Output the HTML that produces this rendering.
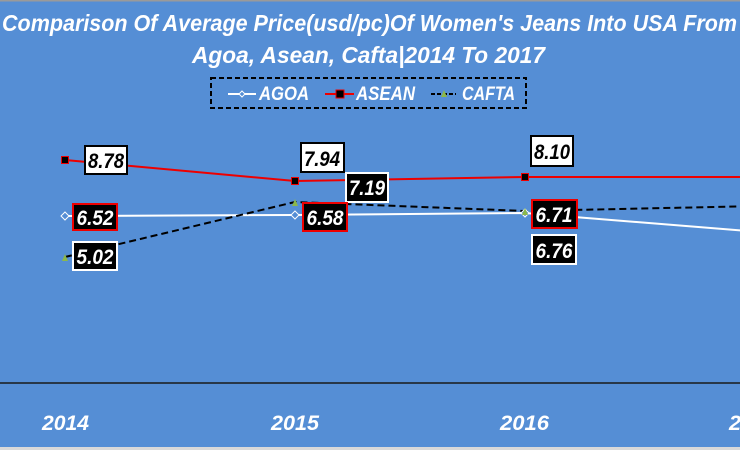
<!DOCTYPE html>
<html><head><meta charset="utf-8"><style>
html,body{margin:0;padding:0;background:#558ED5;}
svg{display:block;}
text{font-family:"Liberation Sans",sans-serif;font-weight:bold;font-style:italic;}
</style></head><body>
<svg width="740" height="450" viewBox="0 0 740 450" xmlns="http://www.w3.org/2000/svg">
<rect width="740" height="450" fill="#558ED5"/>
<rect x="0" y="0" width="740" height="1.5" fill="#9a9a9a"/>
<rect x="0" y="447" width="740" height="3" fill="#d9d9d9"/>
<text x="2" y="31" fill="#fff" font-size="23" textLength="735" lengthAdjust="spacingAndGlyphs">Comparison Of Average Price(usd/pc)Of Women's Jeans  Into USA From</text>
<text x="192" y="63" fill="#fff" font-size="23" textLength="353" lengthAdjust="spacingAndGlyphs">Agoa, Asean, Cafta|2014 To 2017</text>
<!-- legend -->
<rect x="211" y="78" width="315" height="30" fill="none" stroke="#000" stroke-width="2" stroke-dasharray="5,3"/>
<line x1="228" y1="94" x2="256" y2="94" stroke="#fff" stroke-width="2"/>
<path d="M242 91 L245 94 L242 97 L239 94Z" fill="#558ED5" stroke="#fff" stroke-width="1"/>
<text x="259" y="100" fill="#fff" font-size="19" textLength="50" lengthAdjust="spacingAndGlyphs">AGOA</text>
<line x1="325" y1="94" x2="354" y2="94" stroke="#e00" stroke-width="2"/>
<rect x="336" y="90" width="8" height="8" fill="#000" stroke="#e00" stroke-width="1"/>
<text x="356" y="100" fill="#fff" font-size="19" textLength="59" lengthAdjust="spacingAndGlyphs">ASEAN</text>
<line x1="431" y1="94" x2="456" y2="94" stroke="#000" stroke-width="2" stroke-dasharray="4,2"/>
<path d="M441 97 L444 90 L447 97Z" fill="#8cb84a"/>
<text x="462" y="100" fill="#fff" font-size="19" textLength="53" lengthAdjust="spacingAndGlyphs">CAFTA</text>
<!-- axis -->
<line x1="0" y1="383" x2="740" y2="383" stroke="#1a1a1a" stroke-width="1.5"/>
<g fill="#fff" font-size="21">
<text x="42" y="430" textLength="47" lengthAdjust="spacingAndGlyphs">2014</text><text x="271" y="430" textLength="48" lengthAdjust="spacingAndGlyphs">2015</text><text x="500" y="430" textLength="49" lengthAdjust="spacingAndGlyphs">2016</text><text x="729" y="430" textLength="48" lengthAdjust="spacingAndGlyphs">2017</text>
</g>
<!-- series -->
<polyline points="65,216 295,215 525,213 760,232" fill="none" stroke="#fff" stroke-width="2"/>
<polyline points="65,160 295,181 525,177 760,177" fill="none" stroke="#e00" stroke-width="2"/>
<polyline points="65,257 295,202 525,211 760,206" fill="none" stroke="#000" stroke-width="2" stroke-dasharray="7,4"/>
<g fill="#558ED5" stroke="#fff" stroke-width="1">
<path d="M65 212 L69 216 L65 220 L61 216Z"/><path d="M295 211 L299 215 L295 219 L291 215Z"/><path d="M525 209 L529 213 L525 217 L521 213Z"/>
</g>
<g fill="#000" stroke="#e00" stroke-width="1">
<rect x="61.5" y="156.5" width="7" height="7"/><rect x="291.5" y="177.5" width="7" height="7"/><rect x="521.5" y="173.5" width="7" height="7"/>
</g>
<g fill="#8cb84a">
<path d="M62 261 L65 254 L68 261Z"/><path d="M292 206 L295 199 L298 206Z"/><path d="M522 215 L525 208 L528 215Z"/>
</g>
<!-- labels -->
<g font-size="21" text-anchor="middle" lengthAdjust="spacingAndGlyphs">
<rect x="85" y="146" width="42" height="28" fill="#fff" stroke="#000" stroke-width="2"/><text x="106" y="168" fill="#000" textLength="36" lengthAdjust="spacingAndGlyphs">8.78</text>
<rect x="301" y="143" width="43" height="29" fill="#fff" stroke="#000" stroke-width="2"/><text x="322" y="166" fill="#000" textLength="36" lengthAdjust="spacingAndGlyphs">7.94</text>
<rect x="531" y="136" width="42" height="30" fill="#fff" stroke="#000" stroke-width="2"/><text x="552" y="159" fill="#000" textLength="36" lengthAdjust="spacingAndGlyphs">8.10</text>
<rect x="346" y="173" width="42" height="29" fill="#000" stroke="#fff" stroke-width="2"/><text x="367" y="195" fill="#fff" textLength="36" lengthAdjust="spacingAndGlyphs">7.19</text>
<rect x="73" y="204" width="44" height="26" fill="#000" stroke="#e00" stroke-width="2"/><text x="95" y="225" fill="#fff" textLength="37" lengthAdjust="spacingAndGlyphs">6.52</text>
<rect x="303" y="203" width="44" height="28" fill="#000" stroke="#e00" stroke-width="2"/><text x="325" y="225" fill="#fff" textLength="37" lengthAdjust="spacingAndGlyphs">6.58</text>
<rect x="532" y="200" width="45" height="28" fill="#000" stroke="#e00" stroke-width="2"/><text x="554" y="222" fill="#fff" textLength="37" lengthAdjust="spacingAndGlyphs">6.71</text>
<rect x="532" y="235" width="44" height="29" fill="#000" stroke="#fff" stroke-width="2"/><text x="554" y="258" fill="#fff" textLength="37" lengthAdjust="spacingAndGlyphs">6.76</text>
<rect x="73" y="242" width="44" height="28" fill="#000" stroke="#fff" stroke-width="2"/><text x="95" y="264" fill="#fff" textLength="37" lengthAdjust="spacingAndGlyphs">5.02</text>
</g>
</svg>
</body></html>
